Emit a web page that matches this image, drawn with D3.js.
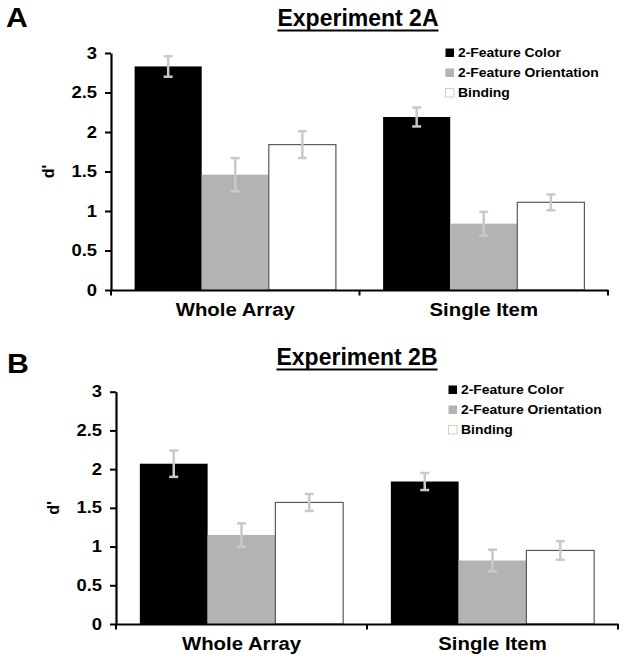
<!DOCTYPE html>
<html>
<head>
<meta charset="utf-8">
<script src="https://cdn.jsdelivr.net/npm/d3@7"></script>
<style>
  html, body { margin: 0; padding: 0; background: #fff; }
  svg { display: block; }
  text { font-family: "Liberation Sans", Arial, Helvetica, sans-serif; font-weight: bold; fill: #000; }
</style>
</head>
<body>
<svg id="chart" width="626" height="664"></svg>
<script>
// ---------- data ----------
const categories = ["Whole Array", "Single Item"];
const seriesNames = ["2-Feature Color", "2-Feature Orientation", "Binding"];
const yTicks = [0, 0.5, 1, 1.5, 2, 2.5, 3];

// Experiment 2A
const colorA = [2.83, 2.19];
const colorErrA = [0.13, 0.12];
const orientA = [1.46, 0.84];
const orientErrA = [0.21, 0.15];
const bindingA = [1.84, 1.11];
const bindingErrA = [0.17, 0.10];

// Experiment 2B
const colorB = [2.07, 1.84];
const colorErrB = [0.17, 0.11];
const orientB = [1.15, 0.82];
const orientErrB = [0.15, 0.14];
const bindingB = [1.57, 0.95];
const bindingErrB = [0.11, 0.12];

// ---------- styles ----------
const fills = ["#000000", "#b3b3b3", "#ffffff"];
const barStrokes = ["none", "none", "#5a5a5a"];
const legendStrokes = ["none", "none", "#cfcfcf"];
const errColor = "#c9c9c9";

const svg = d3.select("#chart");

function stretch(sel, k) {
  sel.each(function () {
    const l = this.getComputedTextLength();
    this.setAttribute("textLength", l * k);
    this.setAttribute("lengthAdjust", "spacingAndGlyphs");
  });
}

function drawPanel(cfg) {
  const g = svg.append("g");
  const y = d3.scaleLinear().domain([0, 3]).range([cfg.y0, cfg.y3]);
  const x0 = d3.scaleBand().domain(categories).range([cfg.xL, cfg.xR])
    .paddingInner(0.19).paddingOuter(0.095);
  const x1 = d3.scaleBand().domain(seriesNames).range([0, x0.bandwidth()]).padding(0);

  const rows = [];
  categories.forEach((c, i) => {
    cfg.series.forEach((s, j) => {
      rows.push({ cat: c, name: seriesNames[j], v: s.values[i], e: s.errs[i], j });
    });
  });

  // bars
  g.selectAll("rect.bar").data(rows).enter().append("rect")
    .attr("class", "bar")
    .attr("x", d => x0(d.cat) + x1(d.name))
    .attr("y", d => y(d.v))
    .attr("width", x1.bandwidth())
    .attr("height", d => y(0) - y(d.v))
    .attr("fill", d => fills[d.j])
    .attr("stroke", d => barStrokes[d.j])
    .attr("stroke-width", 1.2);

  // error bars
  const eg = g.selectAll("g.err").data(rows).enter().append("g").attr("class", "err")
    .attr("stroke", errColor).attr("stroke-width", 2.5);
  eg.append("line")
    .attr("x1", d => x0(d.cat) + x1(d.name) + x1.bandwidth() / 2)
    .attr("x2", d => x0(d.cat) + x1(d.name) + x1.bandwidth() / 2)
    .attr("y1", d => y(d.v + d.e)).attr("y2", d => y(d.v - d.e));
  [1, -1].forEach(sgn => {
    eg.append("line")
      .attr("x1", d => x0(d.cat) + x1(d.name) + x1.bandwidth() / 2 - 4.5)
      .attr("x2", d => x0(d.cat) + x1(d.name) + x1.bandwidth() / 2 + 4.5)
      .attr("y1", d => y(d.v + sgn * d.e)).attr("y2", d => y(d.v + sgn * d.e));
  });

  // y axis
  const ya = g.append("g").attr("transform", `translate(${cfg.xL},0)`)
    .call(d3.axisLeft(y).tickValues(yTicks).tickSize(6).tickSizeOuter(0).tickPadding(8)
      .tickFormat(d3.format("")));
  ya.select(".domain").attr("stroke", "#000").attr("stroke-width", 2.2);
  ya.selectAll(".tick line").attr("stroke", "#000").attr("stroke-width", 2);
  ya.selectAll(".tick text").style("font-size", "16px")
    .style("font-family", "'Liberation Sans', Arial, sans-serif").style("font-weight", "bold")
    .attr("fill", "#000");
  stretch(ya.selectAll(".tick text"), 1.15);

  // x axis
  const xa = g.append("g").attr("transform", `translate(0,${cfg.y0})`)
    .call(d3.axisBottom(x0).tickSize(0).tickSizeOuter(0).tickPadding(13));
  xa.select(".domain").attr("stroke", "#000").attr("stroke-width", 2.2);
  xa.selectAll(".tick text").style("font-size", "18px")
    .style("font-family", "'Liberation Sans', Arial, sans-serif").style("font-weight", "bold")
    .attr("fill", "#000");
  stretch(xa.selectAll(".tick text"), 1.13);
  const bounds = d3.range(categories.length + 1).map(i => x0.range()[0] + i * x0.step());
  xa.selectAll("line.bound").data(bounds).enter().append("line").attr("class", "bound")
    .attr("x1", d => d).attr("x2", d => d).attr("y1", 0).attr("y2", 5.5)
    .attr("stroke", "#000").attr("stroke-width", 2);

  // y label
  g.append("text")
    .attr("transform", `translate(${cfg.xL - 57},${(cfg.y0 + cfg.y3) / 2}) rotate(-90)`)
    .attr("text-anchor", "middle")
    .style("font-size", "16px")
    .text("d'");

  // title
  const t = g.append("text")
    .attr("x", cfg.titleX).attr("y", cfg.titleY)
    .attr("text-anchor", "middle")
    .style("font-size", "23px")
    .text(cfg.title);
  const bb = t.node().getBBox();
  g.append("line")
    .attr("x1", bb.x).attr("x2", bb.x + bb.width)
    .attr("y1", cfg.titleY + 4.5).attr("y2", cfg.titleY + 4.5)
    .attr("stroke", "#000").attr("stroke-width", 2);

  // panel letter
  g.append("text").attr("x", cfg.letterX).attr("y", cfg.letterY)
    .style("font-size", "27px").text(cfg.letter)
    .call(s => stretch(s, 1.12));

  // legend
  const lg = g.append("g").attr("transform", `translate(${cfg.legX},${cfg.legY})`);
  const li = lg.selectAll("g").data(seriesNames).enter().append("g")
    .attr("transform", (d, i) => `translate(0,${i * 20})`);
  li.append("rect").attr("x", 0.5).attr("y", 0.5).attr("width", 8.5).attr("height", 8.5)
    .attr("fill", (d, i) => fills[i]).attr("stroke", (d, i) => legendStrokes[i]);
  li.append("text").attr("x", 13).attr("y", 9.3)
    .style("font-size", "13px").text(d => d)
    .call(s => stretch(s, 1.07));
}

drawPanel({
  xL: 111, xR: 608, y0: 290, y3: 53,
  series: [
    { values: colorA, errs: colorErrA },
    { values: orientA, errs: orientErrA },
    { values: bindingA, errs: bindingErrA }
  ],
  title: "Experiment 2A", titleX: 358, titleY: 26,
  letter: "A", letterX: 6, letterY: 27,
  legX: 445, legY: 48
});

drawPanel({
  xL: 116, xR: 618, y0: 624, y3: 391.7,
  series: [
    { values: colorB, errs: colorErrB },
    { values: orientB, errs: orientErrB },
    { values: bindingB, errs: bindingErrB }
  ],
  title: "Experiment 2B", titleX: 357, titleY: 365,
  letter: "B", letterX: 7, letterY: 373,
  legX: 448, legY: 385
});
</script>
</body>
</html>
